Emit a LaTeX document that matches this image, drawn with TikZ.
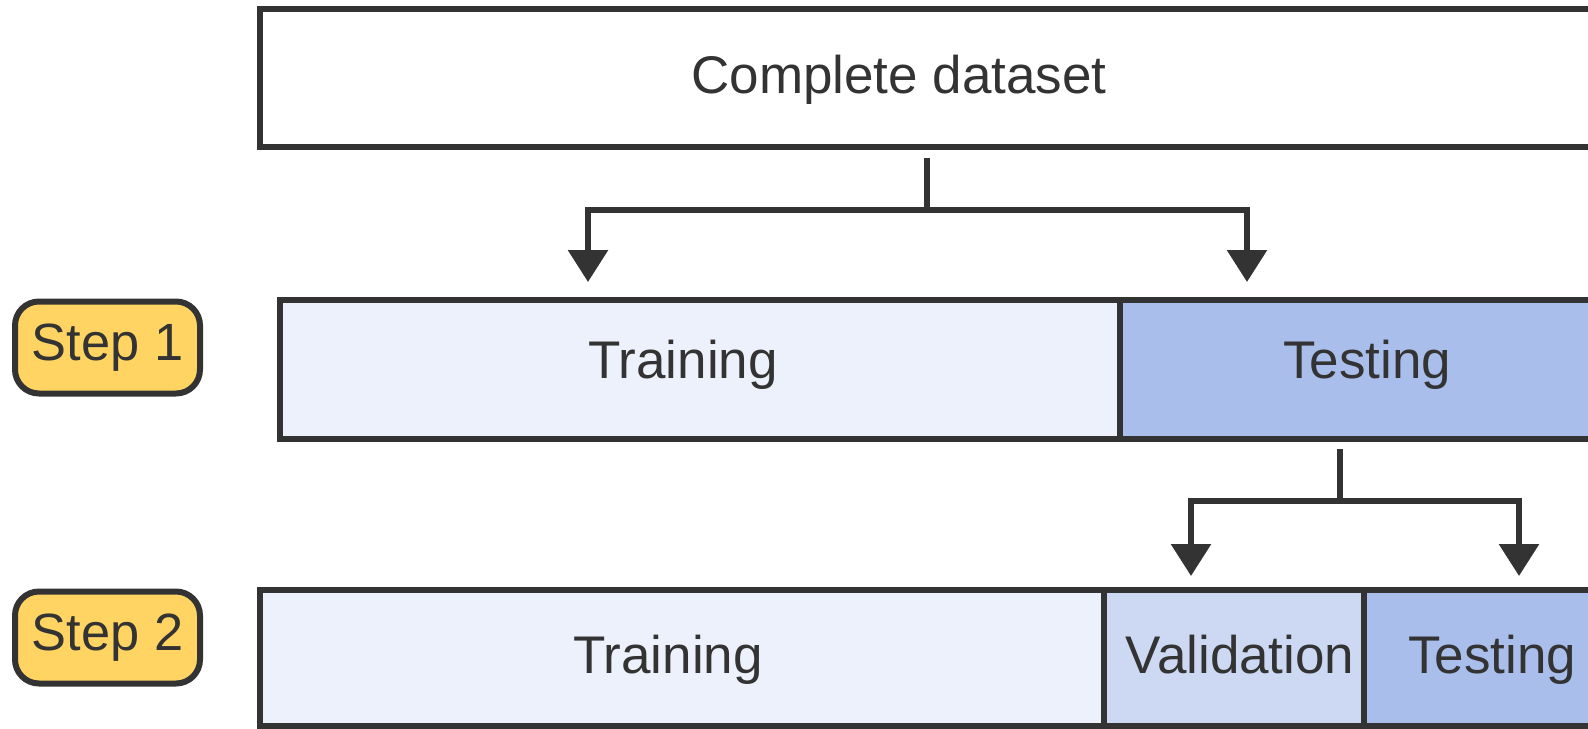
\documentclass[tikz,border=0pt]{standalone}
\usepackage{fontspec}
\setmainfont{Liberation Sans}
\usepackage{tikz}
\usetikzlibrary{arrows.meta, positioning, calc}
\definecolor{ink}{RGB}{51,51,51}
\definecolor{trainfill}{RGB}{237,241,251}
\definecolor{valfill}{RGB}{205,217,243}
\definecolor{testfill}{RGB}{169,190,235}
\definecolor{stepfill}{RGB}{255,212,98}
\tikzset{
  cell/.style={rectangle, draw=ink, line width=3pt, inner sep=0pt, outer sep=0pt},
  lbl/.style={text=ink, font=\fontsize{26.5}{32}\selectfont, inner sep=0pt, anchor=base},
  stepbox/.style={rectangle, rounded corners=12pt, draw=ink, line width=3pt, fill=stepfill,
                  minimum width=92.5pt, minimum height=46pt, text=ink,
                  font=\fontsize{26.2}{32}\selectfont, inner sep=0pt},
  link/.style={draw=ink, line width=3pt},
  arr/.style={-{Triangle[length=16pt,width=19.5pt]}, draw=ink, line width=3pt},
}

\begin{document}
\begin{tikzpicture}[x=0.5pt, y=-0.5pt]
\useasboundingbox (0,0) rectangle (1588,728);
\clip (0,0) rectangle (1588,728);

% Gesamter Datensatz
\node[cell, fill=white, minimum width=690pt, minimum height=69pt] (full) at (950,78) {};
\node[lbl] (tfull) at (899,93) {Complete dataset};

% Schritt 1
\node[stepbox] (step1) at (107.5,347.5) {Step 1};
\node[cell, fill=trainfill, minimum width=420pt, minimum height=69.5pt] (train1) at (700,369.5) {};
\node[cell, fill=testfill, minimum width=260pt, minimum height=69.5pt] (test1) at (1380,369.5) {};
\node[lbl] (ttrain1) at (683,378) {Training};
\node[lbl] (ttest1) at (1367,378) {Testing};

% Schritt 2
\node[stepbox] (step2) at (107.5,637.5) {Step 2};
\node[cell, fill=trainfill, minimum width=422pt, minimum height=68pt] (train2) at (682,658) {};
\node[cell, fill=valfill, minimum width=130pt, minimum height=68pt] (val2) at (1234,658) {};
\node[cell, fill=testfill, minimum width=138pt, minimum height=68pt] (test2) at (1502,658) {};
\node[lbl] (ttrain2) at (668,673) {Training};
\node[lbl] (tval2) at (1240,673) {Validation};
\node[lbl] (ttest2) at (1492,673) {Testing};

% Aufteilung 1
\coordinate (split1) at (927,210);
\coordinate (tip1a) at (588,282);
\coordinate (tip1b) at (1247,282);
\draw[link] ($(split1 |- full.south)+(0,11)$) -- (split1);
\draw[arr] (split1) -| (tip1a);
\draw[arr] (split1) -| (tip1b);

% Aufteilung 2
\coordinate (split2) at (1340,501);
\coordinate (tip2a) at (1191,576);
\coordinate (tip2b) at (1519,576);
\draw[link] ($(split2 |- test1.south)+(0,10)$) -- (split2);
\draw[arr] (split2) -| (tip2a);
\draw[arr] (split2) -| (tip2b);

\end{tikzpicture}
\end{document}
